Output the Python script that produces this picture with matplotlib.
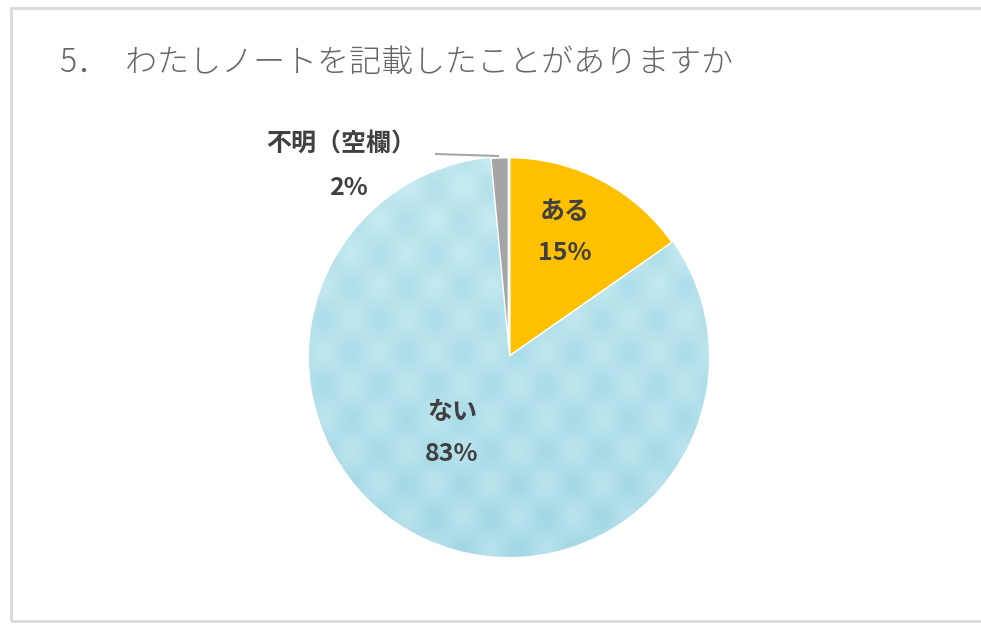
import numpy as np
import matplotlib
matplotlib.use("Agg")
import matplotlib.pyplot as plt
from matplotlib.patches import Rectangle

plt.rcParams['font.family'] = ['Noto Sans CJK JP', 'DejaVu Sans']

# Data
title = '5．\u2002わたしノートを記載したことがありますか'
labels = ['ある', 'ない', '不明（空欄）']
shares = [15.3, 83.2, 1.5]
colors = ['#FFC000', '#B2E2EC', '#A5A5A5']

W, H = 981, 626
fig = plt.figure(figsize=(W / 100, H / 100), dpi=100)
ax = fig.add_axes([0, 0, 1, 1])

cx, cy, R = 509, H - 357, 200
wedges, _ = ax.pie(shares, colors=colors, startangle=90, counterclock=False,
                   center=(cx, cy), radius=R,
                   wedgeprops=dict(edgecolor='white', linewidth=2))

# light water-like shading on the big slice
yy, xx = np.mgrid[0:1:240j, 0:1:240j]
shade = 0.6 + 0.2 * yy + 0.1 * np.sin(xx * 45) * np.sin(yy * 38 + 1)
water = matplotlib.colors.LinearSegmentedColormap.from_list('water', ['#8FCDDC', '#D2F1F7'])
img = ax.imshow(shade, cmap=water, vmin=0.3, vmax=1.0,
                extent=(cx - R, cx + R, cy - R, cy + R),
                origin='lower', zorder=1.5)
img.set_clip_path(wedges[1])
ax.set_xlim(0, W)
ax.set_ylim(0, H)
ax.set_aspect('equal')
ax.axis('off')

# chart frame (right side runs off the image)
ax.add_patch(Rectangle((10.5, 5), W + 20, H - 12.5, fill=False,
                       edgecolor='#D9D9D9', linewidth=2, zorder=0))

ax.text(60, H - 63, title, fontsize=23, fontweight='light', color='#666666',
        ha='left', va='center')

txt = dict(fontsize=18, fontweight='bold', color='#404040', ha='center', va='center', zorder=5)
pct = [f'{s:.0f}%' for s in shares]
ax.text(565, H - 212, labels[0], **txt)
ax.text(565, H - 253, pct[0], **txt)
ax.text(452, H - 412, labels[1], **txt)
ax.text(452, H - 454, pct[1], **txt)
ax.text(341, H - 145, labels[2], **txt)
ax.text(348, H - 188, pct[2], **txt)

# leader line for the small slice
ax.plot([436, 498], [H - 154, H - 156], color='#A6A6A6', linewidth=1.5, zorder=4)

fig.savefig('out.png', dpi=100)
